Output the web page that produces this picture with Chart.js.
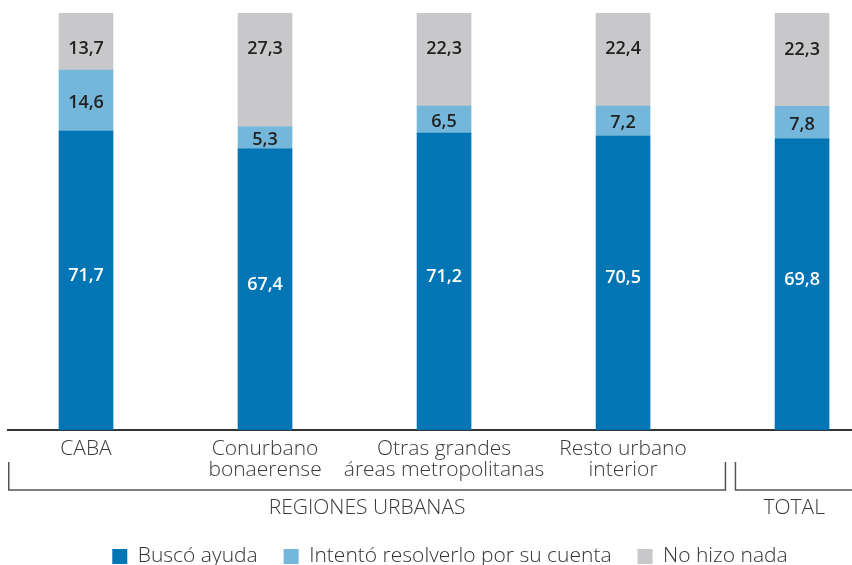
<!DOCTYPE html>
<html>
<head>
<meta charset="utf-8">
<script src="https://cdn.jsdelivr.net/npm/chart.js@4.4.1/dist/chart.umd.min.js"></script>
<style>
  html, body { margin: 0; padding: 0; background: #fff; }
  canvas { display: block; }
</style>
</head>
<body>
<canvas id="chart" width="852" height="565"></canvas>
<script>
// categories (multi-line tick labels), the last bar is the total
const categories = [['CABA'], ['Conurbano', 'bonaerense'], ['Otras grandes', 'áreas metropolitanas'], ['Resto urbano', 'interior'], ['']];
const seriesNames = ['Buscó ayuda', 'Intentó resolverlo por su cuenta', 'No hizo nada'];
const buscoAyuda = [71.7, 67.4, 71.2, 70.5, 69.8];
const intentoResolver = [14.6, 5.3, 6.5, 7.2, 7.8];
const noHizoNada = [13.7, 27.3, 22.3, 22.4, 22.3];
const groups = [
  { label: 'REGIONES URBANAS', from: 0, to: 3 },
  { label: 'TOTAL', from: 4, to: 4 }
];
const colors = ['#0275b4', '#74b7da', '#c8c8ca'];

const FONT = '"Open Sans", Lato, sans-serif';

// numbers inside the segments
const valueLabels = {
  id: 'valueLabels',
  afterDatasetsDraw(chart) {
    const ctx = chart.ctx;
    ctx.save();
    ctx.font = '600 18px ' + FONT;
    ctx.textAlign = 'center';
    ctx.textBaseline = 'middle';
    chart.data.datasets.forEach((ds, di) => {
      chart.getDatasetMeta(di).data.forEach((bar, i) => {
        const { x, y, base } = bar.getProps(['x', 'y', 'base'], true);
        const mid = (y + base) / 2;
        let cy = mid - 5;
        if (di === 1) cy = Math.min(y + 41, mid + 2);
        if (di === 2) cy = Math.min(y + 36, base - 10);
        ctx.fillStyle = di === 0 ? '#ffffff' : '#222222';
        ctx.fillText(ds.data[i].toFixed(1).replace('.', ','), x, cy);
      });
    });
    ctx.restore();
  }
};

// brackets under the axis with the group names
const groupBrackets = {
  id: 'groupBrackets',
  afterDraw(chart) {
    const { ctx, chartArea, scales: { x } } = chart;
    const top = chartArea.bottom + 32;
    const bottom = chartArea.bottom + 60;
    ctx.save();
    ctx.strokeStyle = '#555555';
    ctx.lineWidth = 1.5;
    ctx.fillStyle = '#3a3a3a';
    ctx.font = '300 21px ' + FONT;
    ctx.textAlign = 'center';
    ctx.textBaseline = 'middle';
    groups.forEach((g, gi) => {
      const left = gi === 0 ? chartArea.left + 0.75 : x.getPixelForValue(groups[gi - 1].to + 0.6) + 5;
      const right = gi === groups.length - 1 ? chart.width + 1 : x.getPixelForValue(g.to + 0.6) - 5;
      ctx.beginPath();
      ctx.moveTo(left, top);
      ctx.lineTo(left, bottom);
      ctx.lineTo(right, bottom);
      ctx.lineTo(right, top);
      ctx.stroke();
      ctx.fillText(g.label, (left + right) / 2, bottom + 18);
    });
    ctx.restore();
  }
};

const chart = new Chart(document.getElementById('chart'), {
  type: 'bar',
  data: {
    labels: categories.map((c, i) => i),
    datasets: [
      { label: seriesNames[0], data: buscoAyuda, backgroundColor: colors[0], borderWidth: 0 },
      { label: seriesNames[1], data: intentoResolver, backgroundColor: colors[1], borderWidth: 0 },
      { label: seriesNames[2], data: noHizoNada, backgroundColor: colors[2], borderWidth: 0 }
    ]
  },
  options: {
    responsive: false,
    animation: false,
    devicePixelRatio: 1,
    barThickness: 54,
    layout: { padding: { top: 13, left: 8, right: -40, bottom: -12 } },
    scales: {
      x: {
        type: 'linear',
        stacked: true,
        offset: false,
        bounds: 'data',
        min: -0.4358,
        max: 4.279,
        afterBuildTicks: (s) => { s.ticks = categories.map((c, i) => ({ value: i })); },
        afterFit: (s) => { s.height = 90; },
        grid: { display: false, drawTicks: false, offset: false },
        border: { display: true, color: '#333333', width: 2 },
        ticks: {
          padding: 9,
          maxRotation: 0,
          autoSkip: false,
          color: '#3a3a3a',
          font: { family: FONT, size: 21, weight: 300, lineHeight: 1.0 },
          callback: (v) => categories[v]
        }
      },
      y: { stacked: true, min: 0, max: 100, display: false }
    },
    plugins: {
      legend: {
        position: 'bottom',
        labels: {
          boxWidth: 15,
          boxHeight: 15,
          padding: 26,
          color: '#333333',
          font: { family: FONT, size: 21, weight: 300 }
        }
      },
      tooltip: { enabled: false }
    }
  },
  plugins: [valueLabels, groupBrackets]
});
</script>
</body>
</html>
